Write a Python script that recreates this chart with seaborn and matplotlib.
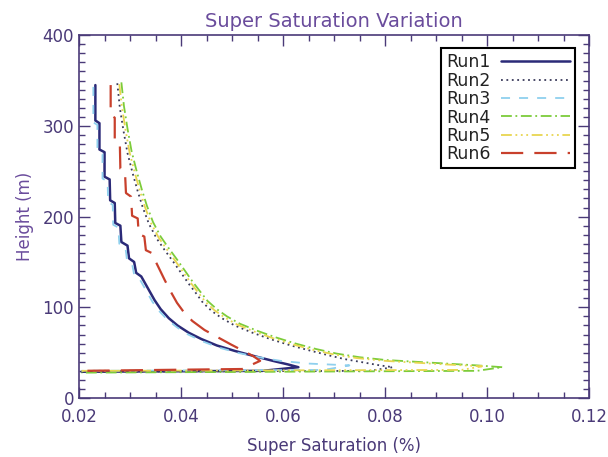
import numpy as np
import pandas as pd
import seaborn as sns
import matplotlib.pyplot as plt
import matplotlib.transforms as mtransforms
from matplotlib.ticker import MultipleLocator

# Datos: supersaturacion (%) y altura (m) por corrida
run1_x = [0.0232, 0.0232, 0.0240, 0.0240, 0.0250, 0.0250, 0.0260, 0.0261, 0.0270, 0.0271, 0.0281, 0.0283,
          0.0295, 0.0298, 0.0308, 0.0312, 0.0322, 0.0336, 0.0348, 0.0360, 0.0376, 0.0393, 0.0415, 0.0440,
          0.0470, 0.0505, 0.0545, 0.0580, 0.0610, 0.0630, 0.0560, 0.0205]
run1_h = [345, 306, 303, 274, 271, 244, 241, 218, 215, 193, 190, 172,
          168, 154, 150, 138, 134, 120, 108, 98, 88, 80, 72, 65,
          58, 52, 46, 41, 37, 34, 30, 29]

run2_x = [0.0275, 0.0280, 0.0287, 0.0295, 0.0305, 0.0315, 0.0325, 0.0337, 0.0352, 0.0368, 0.0385, 0.0400,
          0.0415, 0.0430, 0.0443, 0.0460, 0.0480, 0.0505, 0.0540, 0.0575, 0.0615, 0.0655, 0.0690, 0.0720,
          0.0760, 0.0790, 0.0815, 0.0770, 0.0205]
run2_h = [347, 320, 295, 270, 248, 228, 210, 192, 176, 163, 150, 138, 126, 115, 105, 96, 88, 80, 72, 65,
          58, 52, 47, 43, 39, 36, 34, 30, 29]

run3_x = [0.0228, 0.0228, 0.0236, 0.0236, 0.0246, 0.0246, 0.0256, 0.0257, 0.0266, 0.0267, 0.0277, 0.0279,
          0.0291, 0.0294, 0.0304, 0.0308, 0.0318, 0.0332, 0.0344, 0.0357, 0.0374, 0.0392, 0.0414, 0.0440,
          0.0472, 0.0510, 0.0552, 0.0595, 0.0650, 0.0730, 0.0680, 0.0205]
run3_h = [343, 304, 301, 272, 269, 242, 239, 216, 213, 191, 188, 170,
          166, 152, 148, 136, 132, 118, 106, 96, 86, 78, 70, 63,
          56, 50, 45, 41, 38, 36, 31, 30]

run4_x = [0.0283, 0.0288, 0.0295, 0.0303, 0.0313, 0.0323, 0.0333, 0.0345, 0.0360, 0.0376, 0.0393, 0.0408,
          0.0423, 0.0438, 0.0452, 0.0470, 0.0490, 0.0515, 0.0550, 0.0585, 0.0625, 0.0665, 0.0705, 0.0750,
          0.0800, 0.0860, 0.0920, 0.0980, 0.1030, 0.0980, 0.0205]
run4_h = [348, 322, 297, 272, 250, 230, 212, 194, 178, 165, 152, 140, 128, 117, 107, 98, 90, 82, 74, 67,
          60, 54, 49, 45, 42, 40, 38, 36, 34, 30, 28]

run5_x = [0.0279, 0.0284, 0.0291, 0.0299, 0.0309, 0.0319, 0.0329, 0.0341, 0.0356, 0.0372, 0.0389, 0.0404,
          0.0419, 0.0434, 0.0448, 0.0465, 0.0485, 0.0510, 0.0545, 0.0580, 0.0620, 0.0660, 0.0700, 0.0745,
          0.0800, 0.0860, 0.0920, 0.0990, 0.0950, 0.0205]
run5_h = [346, 321, 296, 271, 249, 229, 211, 193, 177, 164, 151, 139, 127, 116, 106, 97, 89, 81, 73, 66,
          59, 53, 48, 44, 41, 39, 37, 35, 31, 30]

run6_x = [0.0262, 0.0262, 0.0270, 0.0270, 0.0280, 0.0281, 0.0290, 0.0292, 0.0302, 0.0304, 0.0315, 0.0317,
          0.0328, 0.0331, 0.0342, 0.0355, 0.0368, 0.0380, 0.0392, 0.0405, 0.0422, 0.0446, 0.0472, 0.0498,
          0.0522, 0.0542, 0.0555, 0.0520, 0.0205]
run6_h = [345, 312, 309, 283, 280, 253, 250, 226, 222, 201, 198, 181,
          178, 163, 160, 145, 130, 117, 105, 95, 85, 75, 67, 59,
          52, 46, 41, 32, 30]

runs = ['Run1', 'Run2', 'Run3', 'Run4', 'Run5', 'Run6']
datos = [(run1_x, run1_h), (run2_x, run2_h), (run3_x, run3_h),
         (run4_x, run4_h), (run5_x, run5_h), (run6_x, run6_h)]
colores = ['#2b2a78', '#3a3a5a', '#8fd0ee', '#7ccc3a', '#e8d650', '#c8402c']
estilos = ['-', (0, (1, 2)), (0, (5, 5)), (0, (6, 2, 1, 2)), (0, (6, 2, 1, 2, 1, 2, 1, 2)), (0, (10, 5))]
anchos = [1.8, 1.3, 1.3, 1.3, 1.3, 1.6]

sns.set_theme(style='ticks')
plt.rcParams['font.family'] = ['DejaVu Sans']
morado = '#4a3a78'

fig = plt.figure(figsize=(6.08, 4.57), dpi=100)
ax = fig.add_axes([0.130, 0.129, 0.839, 0.794])

for nombre, (xs, hs), c, ls, lw in zip(runs, datos, colores, estilos, anchos):
    df = pd.DataFrame({'x': xs, 'h': hs})
    sns.lineplot(data=df, x='x', y='h', sort=False, estimator=None, ax=ax,
                 color=c, linestyle=ls, linewidth=lw, label=nombre)

ax.set_xlim(0.02, 0.12)
ax.set_ylim(0, 400)
ax.xaxis.set_major_locator(MultipleLocator(0.02))
ax.xaxis.set_minor_locator(MultipleLocator(0.005))
ax.yaxis.set_major_locator(MultipleLocator(100))
ax.yaxis.set_minor_locator(MultipleLocator(10))
ax.set_xticklabels([f'{v:.2f}' for v in ax.get_xticks()])
ax.tick_params(which='both', direction='in', top=True, right=True, colors=morado, labelsize=12)
ax.tick_params(which='major', length=8, width=1)
ax.tick_params(which='minor', length=4, width=1)
ax.tick_params(axis='x', pad=7)
for s in ax.spines.values():
    s.set_color(morado)
    s.set_linewidth(1.2)

# subir un poco la etiqueta "0" del eje y para que no pise "0.02"
fig.canvas.draw()
ylab0 = ax.get_yticklabels()[0]
ylab0.set_transform(ylab0.get_transform() + mtransforms.ScaledTranslation(0, 4 / 72, fig.dpi_scale_trans))

ax.set_title('Super Saturation Variation', color='#6a4c9c', fontsize=14, pad=6)
ax.set_xlabel('Super Saturation (%)', color=morado, fontsize=12, labelpad=8)
ax.set_ylabel('Height (m)', color='#6a4c9c', fontsize=12, labelpad=6)

leg = ax.legend(loc='upper right', bbox_to_anchor=(0.973, 0.964), borderaxespad=0, markerfirst=False,
                fancybox=False, framealpha=1, edgecolor='black', fontsize=12.5, handlelength=4.0,
                labelspacing=0.02, borderpad=0.3, handletextpad=0.6)
leg.get_frame().set_linewidth(1.5)
for t in leg.get_texts():
    t.set_color('#222222')

plt.savefig('out.png', dpi=100)
